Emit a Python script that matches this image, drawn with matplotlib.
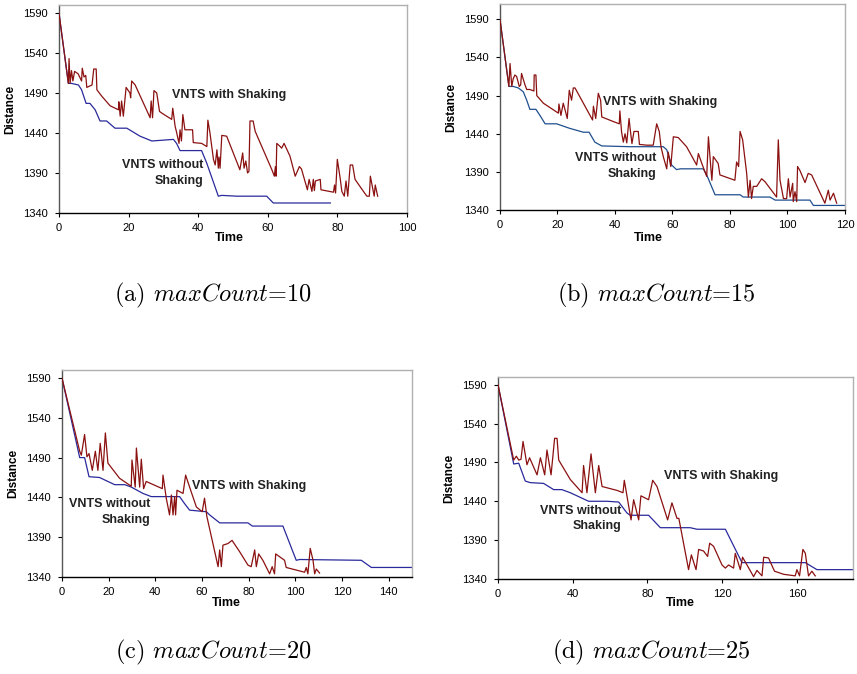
import matplotlib
matplotlib.use("Agg")
import matplotlib.pyplot as plt

plt.rcParams['font.family'] = ['Liberation Sans', 'DejaVu Sans']
plt.rcParams['mathtext.fontset'] = 'cm'

# ---- data ----
# (a) maxCount=10
a_plain_t = [0, 2.7, 3.6, 5.6, 6.5, 7.8, 8.9, 10.4, 11.8, 13.7, 16.1, 19.5, 23.3, 26.7, 32.9, 33.8, 34.8,
             41, 42.5, 45.8, 46.8, 51.1, 59.7, 61.6, 78]
a_plain_d = [1590, 1502, 1502, 1500, 1494, 1477, 1477, 1469, 1455, 1455, 1446, 1446, 1436, 1430, 1432, 1427, 1418,
             1418, 1402, 1361, 1362, 1361, 1361, 1352.5, 1352.5]
a_shake_t = [0, 2.7, 2.9, 3.2, 3.6, 4.0, 4.5, 5.5, 6.5, 6.7, 7.2, 7.7, 8.0, 9.5, 10.0, 10.7, 10.9, 12.3, 14.7,
             17.1, 17.2, 17.6, 18.0, 18.5, 19.3, 20.4, 20.6, 20.9, 21.9, 26.2, 26.5, 26.9, 27.3, 28.1, 28.9, 29.5,
             32.4, 32.7, 33.4, 33.8, 34.5, 34.8, 35.2, 35.6, 36.2, 38.4, 38.6, 41, 42.5, 42.8, 43.4, 44.4, 44.9,
             45.4, 45.8, 46.0, 46.3, 46.8, 48.2, 52, 52.8, 53.2, 53.7, 54.2, 54.6, 54.9, 55.8, 56.4, 61.2, 61.9,
             62.2, 62.4, 62.6, 63.6, 64.0, 64.7, 66.4, 67.9, 69.1, 69.7, 71.4, 71.9, 72.7, 73.1, 73.4, 73.7, 75.1,
             75.3, 78.9, 79.2, 79.5, 80.0, 80.8, 81.3, 82.0, 82.5, 83.0, 83.7, 84.4, 85.1, 87.5, 88.5, 89.2, 89.5,
             90.2, 90.6, 90.9, 91.6]
a_shake_d = [1590, 1502, 1533, 1502, 1518, 1505, 1517, 1514, 1505, 1521, 1510, 1512, 1497, 1500, 1520, 1520, 1494,
             1486, 1474, 1469, 1479, 1461, 1480, 1461, 1497, 1490, 1484, 1505, 1500, 1459, 1480, 1459, 1493, 1490,
             1467, 1465, 1457, 1471, 1448, 1441, 1427, 1444, 1430, 1463, 1444, 1444, 1428, 1427, 1423, 1456, 1440,
             1407, 1400, 1419, 1396, 1410, 1396, 1437, 1436, 1394, 1415, 1396, 1405, 1390, 1392, 1455, 1455, 1442,
             1394, 1386, 1398, 1386, 1427, 1423, 1421, 1427, 1411, 1386, 1398, 1395, 1369, 1382, 1367, 1382, 1368,
             1380, 1382, 1369, 1366, 1375, 1365, 1407, 1384, 1367, 1361, 1380, 1361, 1400, 1400, 1382, 1367, 1361,
             1361, 1386, 1370, 1361, 1375, 1361]

# (b) maxCount=15
b_plain_t = [0, 3.1, 4.6, 6.4, 8.1, 9.3, 10.4, 12.5, 13.9, 15.7, 19.7, 24.3, 29, 31, 33, 35.4, 45.2, 56.8, 58,
             59.7, 61.4, 62.8, 70.7, 71.9, 74.8, 75.9, 83.5, 84.6, 93.9, 95.7, 107.8, 109, 120]
b_plain_d = [1590, 1502, 1502, 1500, 1495, 1484, 1472, 1472, 1464, 1453, 1453, 1447, 1442, 1442, 1429, 1424, 1423,
             1423, 1419, 1399, 1393, 1394, 1394, 1386, 1360, 1360, 1360, 1357, 1357, 1353, 1353, 1346, 1346]
b_shake_t = [0, 3.1, 3.5, 4.1, 4.6, 5.2, 5.8, 6.7, 7.2, 7.5, 8.7, 9.3, 10.4, 11.8, 11.9, 12.5, 12.8, 15.1, 20.3,
             20.5, 21.2, 22, 22.8, 23.4, 24.1, 24.9, 25.5, 26.1, 32.2, 32.5, 33.3, 34.2, 35, 35.4, 39.4, 41.5,
             41.7, 42.3, 42.9, 43.5, 44.1, 44.9, 45.2, 45.9, 46.6, 48.1, 48.5, 51, 53.3, 54.5, 55.4, 56, 56.8, 58,
             58.5, 59.4, 60.3, 62, 64.9, 68.4, 69, 70.2, 71.9, 72.5, 73.3, 73.7, 74.2, 75.9, 76.5, 81.7, 82.3, 83,
             83.5, 84.4, 85.8, 86.4, 87, 87.5, 88.1, 89.3, 91, 92.2, 96.2, 96.8, 97.4, 98.6, 99.7, 100.3, 100.9,
             101.8, 102, 102.6, 103.2, 103.5, 104.3, 106.1, 107.2, 108.4, 113, 114.2, 114.8, 116, 117.1]
b_shake_d = [1590, 1502, 1532, 1502, 1512, 1517, 1515, 1502, 1504, 1519, 1504, 1498, 1498, 1496, 1517, 1517, 1490,
             1480, 1467, 1479, 1464, 1480, 1469, 1460, 1497, 1484, 1500, 1500, 1458, 1476, 1460, 1493, 1484, 1462,
             1456, 1453, 1470, 1442, 1429, 1440, 1428, 1460, 1449, 1427, 1443, 1443, 1426, 1425, 1425, 1453, 1443,
             1423, 1410, 1394, 1416, 1397, 1436, 1435, 1423, 1399, 1414, 1401, 1384, 1436, 1397, 1379, 1410, 1401,
             1386, 1379, 1403, 1397, 1443, 1432, 1388, 1357, 1379, 1355, 1371, 1371, 1381, 1377, 1357, 1432, 1379,
             1355, 1355, 1381, 1357, 1375, 1351, 1364, 1351, 1397, 1392, 1376, 1388, 1386, 1349, 1366, 1353, 1362,
             1349]

# (c) maxCount=20
c_plain_t = [0, 7.6, 9.7, 11.6, 16.1, 19.7, 22.6, 26.9, 29.7, 34.7, 38.3, 50.4, 52.6, 54.7, 61.9, 63.3, 67.6,
             79.7, 81.6, 94.7, 100.4, 101.9, 128.3, 132.6, 150]
c_plain_d = [1590, 1490, 1490, 1466, 1465, 1460, 1456, 1456, 1453, 1445, 1441, 1441, 1432, 1424, 1422, 1418, 1408,
             1408, 1404, 1404, 1361, 1362, 1361, 1352, 1352]
c_shake_t = [0, 7.6, 8.3, 9.7, 10.7, 11.6, 13, 14.3, 15.4, 16.4, 17.6, 18.6, 19.7, 24.7, 29.7, 30, 31.4, 31.9,
             33.3, 34, 35, 36.1, 43, 43.3, 44.7, 46.1, 46.9, 47.6, 48.3, 48.7, 49.3, 51.9, 53, 54.7, 57.6, 60.1,
             61.1, 62.1, 64.7, 66.9, 67.6, 68.3, 69, 71.1, 72.9, 76.1, 79.7, 81.1, 82.6, 83.3, 84.3, 86.1, 89,
             90.1, 91.1, 91.6, 95.4, 96.1, 104, 104.7, 105.4, 106.4, 107.6, 108.3, 109, 110.4]
c_shake_d = [1590, 1498, 1493, 1519, 1491, 1495, 1474, 1498, 1474, 1508, 1474, 1521, 1483, 1464, 1454, 1487, 1453,
             1502, 1453, 1488, 1451, 1460, 1451, 1468, 1439, 1418, 1443, 1418, 1441, 1418, 1449, 1445, 1468, 1453,
             1428, 1422, 1439, 1416, 1382, 1353, 1374, 1353, 1380, 1382, 1386, 1372, 1355, 1353, 1374, 1353, 1369,
             1361, 1344, 1353, 1344, 1369, 1361, 1352, 1346, 1352, 1344, 1376, 1361, 1344, 1350, 1345]

# (d) maxCount=25
d_plain_t = [0, 8.4, 11.1, 14.6, 17.3, 24.4, 29.8, 34.2, 38.7, 48.5, 58.3, 64.6, 69, 70.8, 80.6, 86.9, 102.9,
             106.5, 121.7, 130.6, 164.5, 170.7, 190]
d_plain_d = [1590, 1488, 1489, 1466, 1464, 1463, 1455, 1455, 1451, 1440, 1440, 1439, 1425, 1422, 1422, 1406, 1406,
             1404, 1404, 1361, 1361, 1352, 1352]
d_shake_t = [0, 8.4, 9.8, 11.1, 12.3, 13.4, 15.5, 16.9, 20.9, 22.7, 25, 26.2, 28.4, 30.3, 31.6, 32.5, 38.7, 45,
             45.8, 47.6, 49.8, 52.1, 53.9, 55.7, 63.7, 66.9, 67.6, 71.2, 72.6, 75.3, 76.5, 80.6, 82.8, 85.1, 90.8,
             93.1, 95.8, 96.8, 102, 103.5, 106, 107.4, 110, 112.2, 113.3, 115.4, 119.9, 121.7, 123.4, 126.1, 127,
             129.7, 130.9, 134.7, 136.8, 138.6, 141.3, 142.2, 144.8, 148, 152.9, 159.1, 160, 161.4, 163.2, 164.5,
             166.2, 168, 169.8]
d_shake_d = [1590, 1493, 1498, 1493, 1494, 1517, 1487, 1496, 1474, 1496, 1474, 1506, 1474, 1521, 1521, 1493, 1468,
             1451, 1486, 1451, 1501, 1451, 1486, 1459, 1454, 1451, 1467, 1416, 1442, 1416, 1447, 1442, 1467, 1459,
             1416, 1438, 1418, 1418, 1352, 1371, 1352, 1378, 1376, 1369, 1386, 1382, 1358, 1354, 1358, 1354, 1373,
             1352, 1368, 1352, 1343, 1351, 1344, 1368, 1367, 1350, 1346, 1344, 1352, 1344, 1378, 1373, 1344, 1350,
             1344]

panels = [
    dict(pos=[0.0688, 0.684, 0.406, 0.3086], xlim=(0, 100), xticks=range(0, 101, 20), ylim=(1340, 1600),
         plain=(a_plain_t, a_plain_d), shake=(a_shake_t, a_shake_d), blue='#2a2a9c', time_xy=(0.491, -0.12),
         with_xy=(49, 1487), without_xy=(41.5, 1390), cap=(0.2486, 0.5623), label='(a) $maxCount$=10'),
    dict(pos=[0.5834, 0.6884, 0.4026, 0.3056], xlim=(0, 120), xticks=range(0, 121, 20), ylim=(1340, 1610),
         plain=(b_plain_t, b_plain_d), shake=(b_shake_t, b_shake_d), blue='#1f4f8f', time_xy=(0.429, -0.135),
         with_xy=(55.7, 1482), without_xy=(54.5, 1398), cap=(0.7655, 0.5623), label='(b) $maxCount$=15'),
    dict(pos=[0.0723, 0.1439, 0.4084, 0.3071], xlim=(0, 150), xticks=range(0, 141, 20), ylim=(1340, 1600),
         plain=(c_plain_t, c_plain_d), shake=(c_shake_t, c_shake_d), blue='#2a2a9c', time_xy=(0.47, -0.125),
         with_xy=(80.4, 1454), without_xy=(37.9, 1422), cap=(0.2486, 0.0326), label='(c) $maxCount$=20'),
    dict(pos=[0.5811, 0.141, 0.4142, 0.2997], xlim=(0, 190), xticks=range(0, 161, 40), ylim=(1340, 1600),
         plain=(d_plain_t, d_plain_d), shake=(d_shake_t, d_shake_d), blue='#2a2a9c', time_xy=(0.513, -0.12),
         with_xy=(119.5, 1472), without_xy=(65.8, 1418), cap=(0.7596, 0.0326), label='(d) $maxCount$=25'),
]

fig = plt.figure(figsize=(8.57, 6.74), dpi=100)

for p in panels:
    ax = fig.add_axes(p['pos'])
    ax.plot(*p['plain'], color=p['blue'], lw=0.9, zorder=2)
    ax.plot(*p['shake'], color='#8b1111', lw=0.9, zorder=3)
    ax.set_xlim(*p['xlim'])
    ax.set_ylim(*p['ylim'])
    ax.set_xticks(list(p['xticks']))
    ax.set_yticks(range(1340, 1591, 50))
    ax.tick_params(direction='out', length=3, width=0.8, labelsize=8, colors='black')
    ax.tick_params(axis='x', pad=4)
    ax.tick_params(axis='y', pad=5)
    ax.spines['top'].set_color('#b0b0b0')
    ax.spines['right'].set_color('#b0b0b0')
    ax.spines['left'].set_color('#555555')
    ax.spines['bottom'].set_color('black')
    for s in ax.spines.values():
        s.set_linewidth(1.0)
    ax.set_xlabel('Time', fontsize=9, fontweight='bold', va='center')
    ax.xaxis.set_label_coords(*p['time_xy'])
    ax.set_ylabel('Distance', fontsize=8.5, fontweight='bold', labelpad=5)
    ax.text(*p['with_xy'], 'VNTS with Shaking', fontsize=9, fontweight='bold',
            ha='center', va='center', color='#222222')
    ax.text(*p['without_xy'], 'VNTS without\nShaking', fontsize=9, fontweight='bold',
            ha='right', va='center', multialignment='right', linespacing=1.4, color='#222222')
    fig.text(*p['cap'], p['label'], family='cmr10', fontsize=17.5, ha='center', va='center')

plt.savefig('out.png', dpi=100)
